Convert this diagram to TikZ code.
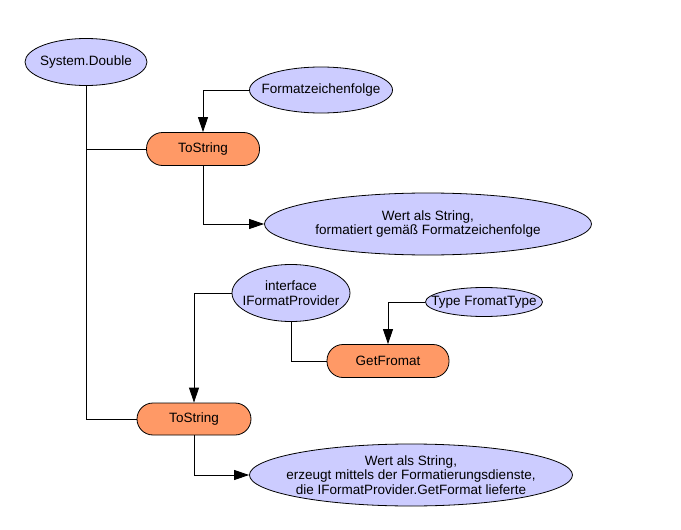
\documentclass[tikz,border=0pt]{standalone}
\usepackage{fontspec}
\setmainfont{Liberation Sans}
\usetikzlibrary{shapes.geometric,arrows.meta}
\definecolor{lav}{HTML}{CCCCFF}
\definecolor{org}{HTML}{FF9966}
\tikzset{
  txt/.style={align=center,inner sep=0pt,font=\fontsize{13.5}{14.5}\selectfont},
  ell/.style={ellipse,draw=black,line width=0.8pt,fill=lav,inner sep=0pt,label={[txt]center:#1}},
  pill/.style={rectangle,draw=black,line width=0.8pt,fill=org,inner sep=0pt,rounded corners=16pt,align=center,font=\fontsize{13.5}{14.5}\selectfont},
  conn/.style={line width=0.8pt,draw=black},
  arr/.style={conn,-{Triangle[length=15pt,width=10pt]}}
}
\begin{document}
\begin{tikzpicture}[x=1pt,y=-1pt]
\useasboundingbox (0,0) rectangle (681,530);
\node[ell={System.Double},minimum width=122pt,minimum height=47pt] (sd) at (86,62) {};
\node[ell={Formatzeichenfolge},minimum width=143pt,minimum height=46pt] (fz) at (321,90) {};
\node[pill,minimum width=113pt,minimum height=33pt] (ts1) at (203,149) {ToString};
\node[ell={Wert als String,\\formatiert gemäß Formatzeichenfolge},minimum width=327pt,minimum height=62pt] (w1) at (428,224) {};
\node[ell={interface\\IFormatProvider},minimum width=118pt,minimum height=57pt] (ifp) at (291,293) {};
\node[ell={Type FromatType},minimum width=117pt,minimum height=29pt] (ft) at (484,302) {};
\node[pill,minimum width=122pt,minimum height=33pt] (gf) at (388,361) {GetFromat};
\node[pill,minimum width=114pt,minimum height=32pt] (ts2) at (194,419) {ToString};
\node[ell={Wert als String,\\erzeugt mittels der Formatierungsdienste,\\die IFormatProvider.GetFormat lieferte},minimum width=323pt,minimum height=62pt] (w2) at (411,475) {};
\draw[conn] (sd.south) |- (ts1.west);
\draw[conn] (sd.south) |- (ts2.west);
\draw[arr] (fz.west) -| (ts1.north);
\draw[arr] (ts1.south) |- (w1.west);
\draw[arr] (ifp.west) -| (ts2.north);
\draw[conn] (ifp.south) |- (gf.west);
\draw[arr] (ft.west) -| (gf.north);
\draw[arr] (ts2.south) |- (w2.west);
\end{tikzpicture}
\end{document}
